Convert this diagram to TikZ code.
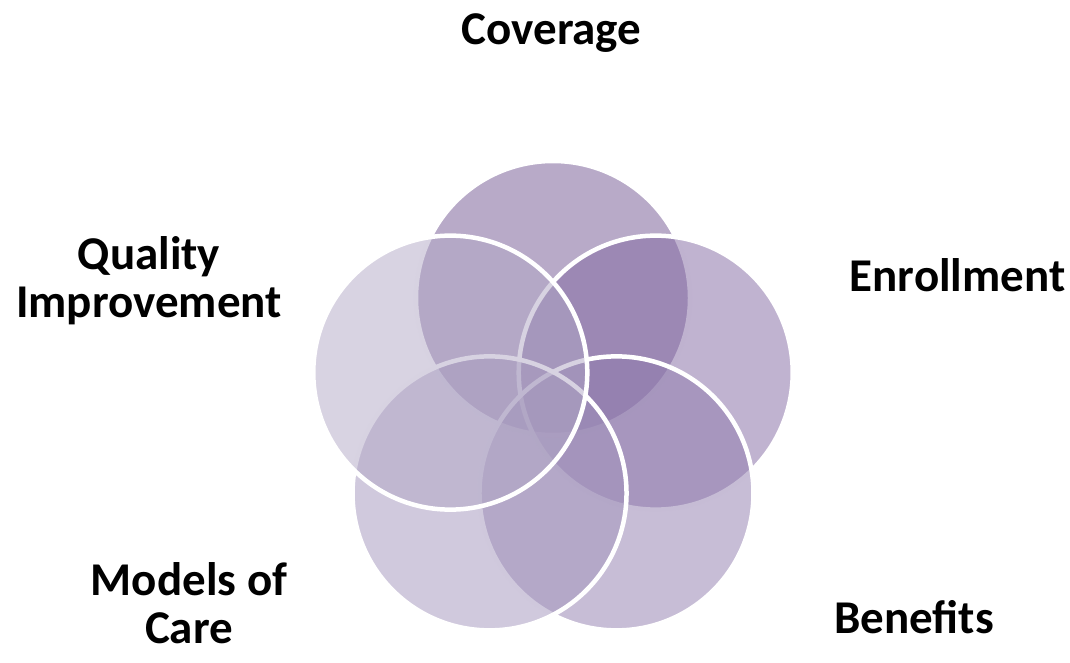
\documentclass[tikz,border=0pt]{standalone}
\usepackage{fontspec}
\setmainfont{Carlito}
\usetikzlibrary{calc}
\definecolor{covc}{RGB}{113,85,145}
\definecolor{enrc}{RGB}{129,103,161}
\definecolor{benc}{RGB}{143,123,173}
\definecolor{modc}{RGB}{161,147,187}
\definecolor{qualc}{RGB}{177,167,197}
\begin{document}
\begin{tikzpicture}[x=1pt,y=1pt,
  petal/.style={circle, minimum size=274pt, inner sep=0pt, draw=white,
    line width=4.5pt, fill opacity=0.5},
  lbl/.style={font=\fontsize{47}{48}\selectfont\bfseries, align=center,
    inner sep=0pt, anchor=base}]
\useasboundingbox (0,0) rectangle (1070,662);
\coordinate (mid) at (553,256);
% five overlapping translucent circles, drawn in order
\node[petal, fill=covc]  (cov)  at ($(mid)+(90:108)$)  {};
\node[petal, fill=enrc]  (enr)  at ($(mid)+(18:108)$)  {};
\node[petal, fill=benc]  (ben)  at ($(mid)+(-54:108)$) {};
\node[petal, fill=modc]  (mod)  at ($(mid)+(-126:108)$) {};
\node[petal, fill=qualc] (qual) at ($(mid)+(162:108)$) {};
% labels (base anchor sits on the last line)
\node[lbl] (tcov)  at (551.5,617) {Coverage};
\node[lbl] (tenr)  at (957.5,370) {Enrollment};
\node[lbl] (tben)  at (914,29)    {Benefits};
\node[lbl] (tmod)  at (189,19)    {Models of\\Care};
\node[lbl] (tqual) at (149,344)   {Quality\\Improvement};
\end{tikzpicture}
\end{document}
